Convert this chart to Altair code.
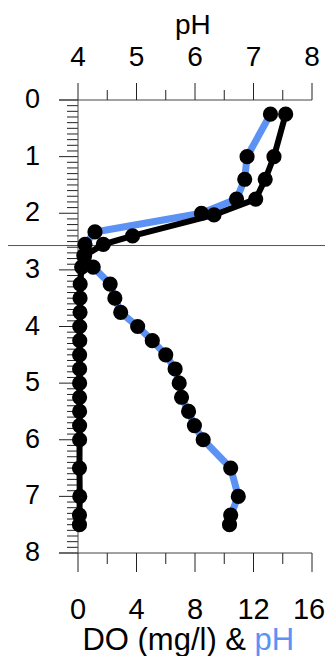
import altair as alt
import pandas as pd

# ---- data ----
ph_depth = [0.25, 1.0, 1.4, 1.75, 2.0, 2.33, 2.55, 2.75, 2.95, 3.25, 3.5, 3.75, 4.0,
            4.25, 4.5, 4.75, 5.0, 5.25, 5.5, 5.75, 6.0, 6.5, 7.0, 7.33, 7.5]
ph_vals = [7.29, 6.89, 6.85, 6.71, 6.11, 4.29, 4.12, 4.10, 4.26, 4.55, 4.63, 4.73, 5.02,
           5.27, 5.50, 5.66, 5.73, 5.77, 5.89, 5.99, 6.14, 6.61, 6.74, 6.61, 6.59]

do_depth = [0.25, 1.0, 1.4, 1.75, 2.03, 2.4, 2.55, 2.75, 2.95, 3.25, 3.5, 3.75, 4.0,
            4.25, 4.5, 4.75, 5.0, 5.25, 5.5, 5.75, 6.0, 6.5, 7.0, 7.33, 7.5]
do_vals = [14.2, 13.4, 12.8, 12.15, 9.3, 3.73, 1.73, 0.45, 0.25, 0.15, 0.14, 0.14, 0.12,
           0.12, 0.11, 0.11, 0.11, 0.11, 0.11, 0.11, 0.11, 0.1, 0.12, 0.1, 0.1]

boundary_depth = [2.57]

ph_major = [4, 5, 6, 7, 8]
ph_labels = ["4", "5", "6", "7", "8"]
ph_minor = [4.5, 5.5, 6.5, 7.5]
do_major = [0, 4, 8, 12, 16]
do_labels = ["0", "4", "8", "12", "16"]
do_minor = [2, 6, 10, 14]
depth_major = [0, 1, 2, 3, 4, 5, 6, 7, 8]
depth_labels = ["0", "1", "2", "3", "4", "5", "6", "7", "8"]
depth_minor = [round(i * 0.1, 1) for i in range(81) if i % 10 != 0]

BLUE = "#5b92f4"
FONT = "Liberation Sans"
AXC = "#444444"
TKC = "#222222"
W, H = 234, 453

ph_df = pd.DataFrame({"depth": ph_depth, "pH": ph_vals})
do_df = pd.DataFrame({"depth": do_depth, "DO": do_vals})

yscale = alt.Scale(domain=[0, 8], reverse=True, nice=False, zero=False)
ph_scale = alt.Scale(domain=[4, 8], nice=False, zero=False)
do_scale = alt.Scale(domain=[0, 16], nice=False, zero=False)
Y = lambda f: alt.Y(f, scale=yscale, axis=None)
XP = lambda f: alt.X(f, scale=ph_scale, axis=None)
XD = lambda f: alt.X(f, scale=do_scale, axis=None)

# ---- pH (top scale) ----
ph_line = alt.Chart(ph_df).mark_line(color=BLUE, strokeWidth=7).encode(
    x=XP("pH:Q"), y=Y("depth:Q"), order=alt.Order("depth:Q"))
ph_pts = alt.Chart(ph_df).mark_circle(size=230, color="black", opacity=1).encode(
    x=XP("pH:Q"), y=Y("depth:Q"))
ph_maj = alt.Chart(pd.DataFrame({"v": ph_major, "t": ph_labels}))
ph_ticks = ph_maj.mark_rule(color=TKC, strokeWidth=1).encode(
    x=XP("v:Q"), y=alt.value(-17), y2=alt.value(0))
ph_text = ph_maj.mark_text(font=FONT, fontSize=28, color="black", align="center",
                           baseline="alphabetic").encode(
    x=XP("v:Q"), y=alt.value(-34.5), text="t:N")
ph_mticks = alt.Chart(pd.DataFrame({"v": ph_minor})).mark_rule(
    color=TKC, strokeWidth=1).encode(x=XP("v:Q"), y=alt.value(-10), y2=alt.value(0))
ph_layer = alt.layer(ph_ticks, ph_mticks, ph_text, ph_line, ph_pts)

# ---- DO (bottom scale) ----
do_line = alt.Chart(do_df).mark_line(color="black", strokeWidth=6).encode(
    x=XD("DO:Q"), y=Y("depth:Q"), order=alt.Order("depth:Q"))
do_pts = alt.Chart(do_df).mark_circle(size=230, color="black", opacity=1).encode(
    x=XD("DO:Q"), y=Y("depth:Q"))
do_lab_df = pd.DataFrame({"v": do_major, "t": do_labels})
do_ticks = alt.Chart(do_lab_df).mark_rule(color=TKC, strokeWidth=1).encode(
    x=XD("v:Q"), y=alt.value(H), y2=alt.value(H + 19))
do_text = alt.Chart(do_lab_df.iloc[:-1]).mark_text(
    font=FONT, fontSize=29, color="black", align="center", baseline="alphabetic"
).encode(x=XD("v:Q"), y=alt.value(H + 66), text="t:N")
do_text_last = alt.Chart(do_lab_df.iloc[-1:]).mark_text(
    font=FONT, fontSize=29, color="black", align="center", baseline="alphabetic", dx=-3
).encode(x=XD("v:Q"), y=alt.value(H + 66), text="t:N")
do_mticks = alt.Chart(pd.DataFrame({"v": do_minor})).mark_rule(
    color=TKC, strokeWidth=1).encode(x=XD("v:Q"), y=alt.value(H), y2=alt.value(H + 11))
do_layer = alt.layer(do_ticks, do_mticks, do_text, do_text_last, do_line, do_pts)

# ---- depth axis (left) ----
d_maj = alt.Chart(pd.DataFrame({"v": depth_major, "t": depth_labels}))
d_ticks = d_maj.mark_rule(color=TKC, strokeWidth=1).encode(
    y=Y("v:Q"), x=alt.value(-19), x2=alt.value(0))
d_text = d_maj.mark_text(font=FONT, fontSize=27, color="black", align="right",
                         baseline="middle").encode(
    y=Y("v:Q"), x=alt.value(-38), text="t:N")
d_mticks = alt.Chart(pd.DataFrame({"v": depth_minor})).mark_rule(
    color=TKC, strokeWidth=1).encode(y=Y("v:Q"), x=alt.value(-11), x2=alt.value(0))

one = alt.Chart(pd.DataFrame({"a": [0]}))
dom_left = one.mark_rule(color=AXC, strokeWidth=1).encode(
    x=alt.value(0), y=alt.value(0), y2=alt.value(H))
dom_top = one.mark_rule(color=AXC, strokeWidth=1).encode(
    x=alt.value(-19), x2=alt.value(W), y=alt.value(0))
dom_bot = one.mark_rule(color=AXC, strokeWidth=1).encode(
    x=alt.value(-19), x2=alt.value(W), y=alt.value(H))

hline = alt.Chart(pd.DataFrame({"depth": boundary_depth})).mark_rule(
    color="#555555", strokeWidth=1).encode(
    y=Y("depth:Q"), x=alt.value(-78), x2=alt.value(260))

ph_title = alt.Chart(pd.DataFrame({"t": ["pH"]})).mark_text(
    font=FONT, fontSize=28, color="black", align="center", baseline="alphabetic"
).encode(text="t:N", x=alt.value(114.8), y=alt.value(-66))
do_title = alt.Chart(pd.DataFrame({"t": ["DO (mg/l) &"]})).mark_text(
    font=FONT, fontSize=31, color="black", align="right", baseline="alphabetic"
).encode(text="t:N", x=alt.value(168), y=alt.value(550))
do_title_ph = alt.Chart(pd.DataFrame({"t": ["pH"]})).mark_text(
    font=FONT, fontSize=31, color=BLUE, align="left", baseline="alphabetic"
).encode(text="t:N", x=alt.value(176.5), y=alt.value(550))

chart = alt.layer(
    d_mticks, d_ticks, d_text, dom_left, dom_top, dom_bot, hline,
    ph_layer, do_layer, ph_title, do_title, do_title_ph
).resolve_scale(x="independent").properties(
    width=W, height=H, background="white",
    padding={"left": 70, "top": 92, "right": 13, "bottom": 103},
    autosize=alt.AutoSizeParams(type="none"),
).configure_view(strokeWidth=0)

chart.save("out.html", embed_options={"renderer": "svg", "actions": False})
